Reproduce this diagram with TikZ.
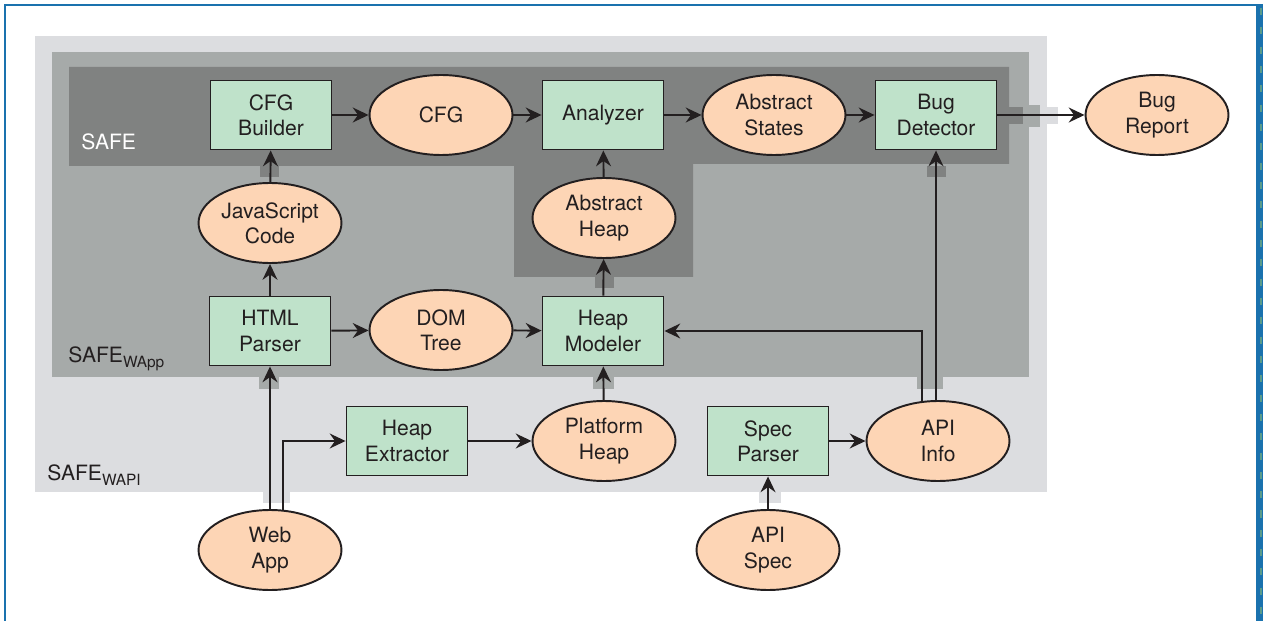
\documentclass[tikz,border=0pt]{standalone}
\usepackage{fontspec}
\setmainfont{TeX Gyre Heros}
\usepackage{tikz}
\usetikzlibrary{shapes.geometric}
\usetikzlibrary{arrows.meta}
\usepackage{xcolor}

\definecolor{boxgreen}{HTML}{BFE2CA}
\definecolor{ovalpeach}{HTML}{FDD5B5}
\definecolor{wapigray}{HTML}{DCDDE0}
\definecolor{wappgray}{HTML}{A6AAA9}
\definecolor{safegray}{HTML}{808281}
\definecolor{frameblue}{HTML}{1A72AE}
\definecolor{framedash}{HTML}{5A9C8C}
\definecolor{ink}{HTML}{231F20}

\newcommand{\nodefont}{\fontsize{12pt}{14.4pt}\selectfont}
\newcommand{\subfont}{\fontsize{8.8pt}{10pt}\selectfont}

\tikzset{
  proc/.style={draw=ink,fill=boxgreen,line width=1.1pt,minimum width=2.42cm,
    minimum height=1.38cm,inner sep=0pt,align=center,text=ink,font=\nodefont},
  data/.style={ellipse,draw=ink,fill=ovalpeach,line width=1.1pt,minimum width=2.86cm,
    minimum height=1.6cm,inner sep=0pt,align=center,text=ink,font=\nodefont},
  flow/.style={draw=ink,line width=1.1pt,-{Stealth[length=9pt,width=8.5pt,inset=3pt]}},
  layer/.style={anchor=base west,inner sep=0pt,font=\nodefont},
}

\begin{document}
\begin{tikzpicture}[x=0.02cm,y=-0.02cm]
  \useasboundingbox (0,0) rectangle (1263,621);
  % frame
  \draw[frameblue,line width=1.2pt] (5,621) -- (5,5) -- (1257,5);
  \fill[frameblue] (1256,4) rectangle (1263,621);
  \draw[framedash,line width=1.2pt,dash pattern=on 4pt off 7pt] (1261,8) -- (1261,621);

  % SAFE_WAPI layer
  \fill[wapigray] (35,36) rectangle (1047,492);
  \foreach \x/\w in {263/27,759/22}
    \fill[wapigray] (\x,492) rectangle ++(\w,11);
  \fill[wapigray] (1047,107) rectangle (1058,124);

  % SAFE_WApp layer
  \fill[wappgray] (52,52) rectangle (1029,377);
  \foreach \x/\w in {259/20,593/21,917/26}
    \fill[wappgray] (\x,377) rectangle ++(\w,12);
  \fill[wappgray] (1029,105) rectangle (1040,127);

  % SAFE layer
  \fill[safegray] (69,67) -- (1009,67) -- (1009,164) -- (693,164) -- (693,277)
    -- (514,277) -- (514,166) -- (69,166) -- cycle;
  \foreach \x/\y in {260/166,595/277,927/166}
    \fill[safegray] (\x,\y) rectangle ++(19,11);
  \fill[safegray] (1009,107) rectangle (1023,124);

  \node[layer,text=white] (safelbl) at (81,150) {SAFE};
  \node[layer,text=ink] (wapplbl) at (68,362) {SAFE\raisebox{-3.4pt}{\subfont WApp}};
  \node[layer,text=ink] (wapilbl) at (47,480) {SAFE\raisebox{-3pt}{\subfont WAPI}};

  % top row
  \node[proc] (cfgb) at (271,115) {CFG\\Builder};
  \node[data] (cfg) at (441,115) {CFG};
  \node[proc] (anlz) at (603,115) {Analyzer};
  \node[data] (absst) at (774,115) {Abstract\\States};
  \node[proc] (bugdet) at (936,115) {Bug\\Detector};
  \node[data] (bugrep) at (1157,115) {Bug\\Report};

  \node[data] (jscode) at (270,223) {JavaScript\\Code};
  \node[data] (absheap) at (604,218) {Abstract\\Heap};

  \node[proc] (htmlp) at (270,331) {HTML\\Parser};
  \node[data] (domtree) at (441,330) {DOM\\Tree};
  \node[proc] (heapmod) at (603,331) {Heap\\Modeler};

  \node[proc] (heapext) at (407,441) {Heap\\Extractor};
  \node[data] (platheap) at (604,441) {Platform\\Heap};
  \node[proc] (specp) at (768,441) {Spec\\Parser};
  \node[data] (apiinfo) at (938,441) {API\\Info};

  \node[data] (webapp) at (270,550) {Web\\App};
  \node[data] (apispec) at (768,550) {API\\Spec};

  % connectors
  \draw[flow] (cfgb) -- (cfg);
  \draw[flow] (cfg) -- (anlz);
  \draw[flow] (anlz) -- (absst);
  \draw[flow] (absst) -- (bugdet);
  \draw[flow] (bugdet) -- (bugrep);
  \draw[flow] (jscode) -- (cfgb);
  \draw[flow] (absheap) -- (anlz);
  \draw[flow] (htmlp) -- (jscode);
  \draw[flow] (htmlp) -- (domtree);
  \draw[flow] (domtree) -- (heapmod);
  \draw[flow] (heapmod) -- (absheap);
  \draw[flow] (apiinfo.112) |- (heapmod);
  \draw[flow] (apiinfo.north -| bugdet) -- (bugdet);
  \draw[flow] (webapp) -- (htmlp);
  \draw[flow] (webapp.72) |- (heapext);
  \draw[flow] (heapext) -- (platheap);
  \draw[flow] (platheap) -- (heapmod);
  \draw[flow] (specp) -- (apiinfo);
  \draw[flow] (apispec) -- (specp);
\end{tikzpicture}
\end{document}
